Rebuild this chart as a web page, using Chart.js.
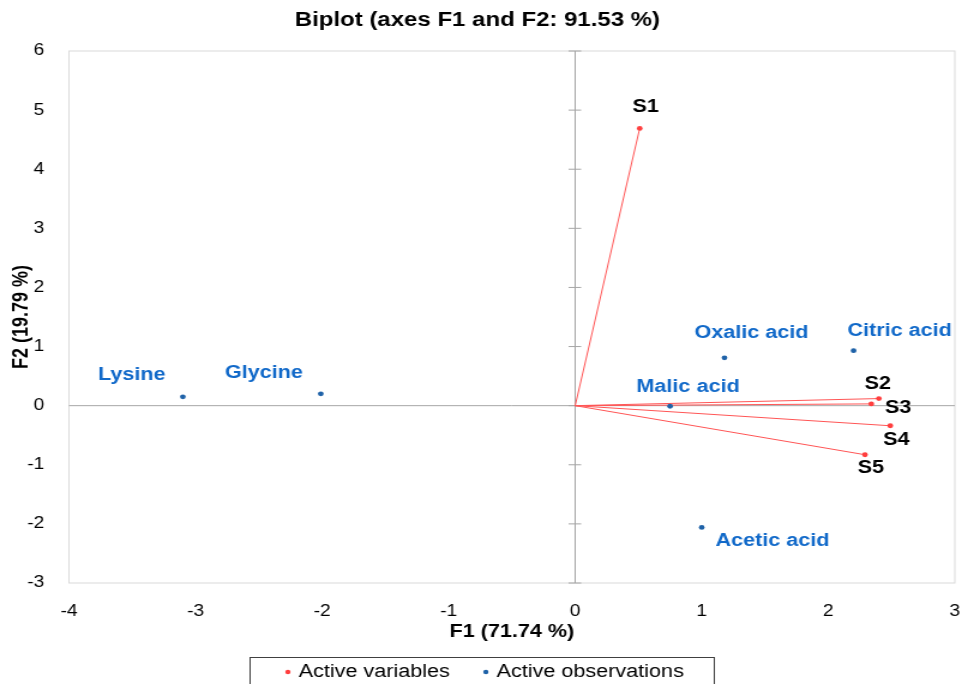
<!DOCTYPE html>
<html><head><meta charset="utf-8">
<script src="https://cdn.jsdelivr.net/npm/chart.js@4.4.1/dist/chart.umd.min.js"></script>
<style>html,body{margin:0;padding:0;background:#fff;overflow:hidden}</style></head>
<body><canvas id="c" width="802" height="684" style="display:block;width:962px;height:684px"></canvas>
<script>
const variableNames = ['S1', 'S2', 'S3', 'S4', 'S5'];
const variableF1 = [0.51, 2.40, 2.34, 2.49, 2.29];
const variableF2 = [4.69, 0.12, 0.03, -0.34, -0.83];
const observationNames = ['Oxalic acid', 'Citric acid', 'Malic acid', 'Acetic acid', 'Lysine', 'Glycine'];
const observationF1 = [1.18, 2.20, 0.75, 1.00, -3.10, -2.01];
const observationF2 = [0.81, 0.93, -0.01, -2.06, 0.15, 0.20];
const xTicks = [-4, -3, -2, -1, 0, 1, 2, 3];
const yTicks = [-3, -2, -1, 0, 1, 2, 3, 4, 5, 6];
const seriesNames = ['Active variables', 'Active observations'];

// label placement (style only, pixel offsets from each point)
const variableLabelOffsets = [[5, -21], [-1, -15], [22.5, 4], [5, 14], [5, 13]];
const observationLabelOffsets = [[22.5, -25], [38.3, -20], [15, -19], [59, 14], [-42.5, -22], [-47.5, -21]];

const FONT = '"Liberation Sans", Arial, sans-serif';
const RED = '#FF3F3F';
const BLUE_PT = '#1F62A8';
const BLUE_TXT = '#1169C9';

const decor = {
  id: 'decor',
  beforeDatasetsDraw(chart) {
    const {ctx, chartArea: a, scales: {x, y}} = chart;
    ctx.save();
    ctx.strokeStyle = '#D9D9D9'; ctx.lineWidth = 1;
    ctx.strokeRect(a.left, a.top, a.right - a.left, a.bottom - a.top);
    const x0 = x.getPixelForValue(0), y0 = y.getPixelForValue(0);
    ctx.strokeStyle = '#A6A6A6';
    ctx.beginPath();
    ctx.moveTo(x0, a.top); ctx.lineTo(x0, a.bottom);
    ctx.moveTo(a.left, y0); ctx.lineTo(a.right, y0);
    yTicks.forEach(v => { const p = y.getPixelForValue(v); ctx.moveTo(x0 - 5.5, p); ctx.lineTo(x0 + 5, p); });
    ctx.stroke();
    ctx.strokeStyle = '#FF5555'; ctx.lineWidth = 1;
    ctx.beginPath();
    variableF1.forEach((v, i) => {
      ctx.moveTo(x0, y0);
      ctx.lineTo(x.getPixelForValue(v), y.getPixelForValue(variableF2[i]));
    });
    ctx.stroke();
    ctx.restore();
  },
  afterDatasetsDraw(chart) {
    const {ctx, scales: {x, y}} = chart;
    ctx.save();
    ctx.font = '700 18px ' + FONT;
    ctx.textAlign = 'center'; ctx.textBaseline = 'middle';
    ctx.fillStyle = '#000';
    variableNames.forEach((n, i) => {
      const o = variableLabelOffsets[i];
      ctx.fillText(n, x.getPixelForValue(variableF1[i]) + o[0], y.getPixelForValue(variableF2[i]) + o[1]);
    });
    ctx.fillStyle = BLUE_TXT;
    observationNames.forEach((n, i) => {
      const o = observationLabelOffsets[i];
      ctx.fillText(n, x.getPixelForValue(observationF1[i]) + o[0], y.getPixelForValue(observationF2[i]) + o[1]);
    });
    ctx.restore();
  },
  afterDraw(chart) {
    const {ctx} = chart;
    ctx.save();
    ctx.strokeStyle = '#404040'; ctx.lineWidth = 1;
    ctx.strokeRect(208.5, 657.5, 387, 40);
    ctx.font = '18px ' + FONT;
    ctx.textBaseline = 'middle'; ctx.textAlign = 'left';
    let cx = 240;
    chart.data.datasets.forEach(ds => {
      ctx.fillStyle = ds.backgroundColor;
      ctx.beginPath(); ctx.arc(cx, 672, 2.2, 0, Math.PI * 2); ctx.fill();
      ctx.fillStyle = '#000';
      ctx.fillText(ds.label, cx + 9, 672);
      cx += 9 + ctx.measureText(ds.label).width + 30;
    });
    ctx.restore();
  }
};

new Chart(document.getElementById('c'), {
  type: 'scatter',
  data: {
    datasets: [
      {
        label: seriesNames[0],
        data: variableF1.map((v, i) => ({x: v, y: variableF2[i]})),
        backgroundColor: RED, borderColor: RED,
        pointRadius: 2.4, borderWidth: 0
      },
      {
        label: seriesNames[1],
        data: observationF1.map((v, i) => ({x: v, y: observationF2[i]})),
        backgroundColor: BLUE_PT, borderColor: BLUE_PT,
        pointRadius: 2.4, borderWidth: 0
      }
    ]
  },
  options: {
    responsive: false,
    animation: false,
    devicePixelRatio: 1,
    layout: {padding: {left: 0, right: 6, top: 0, bottom: 24}},
    plugins: {
      legend: {display: false},
      tooltip: {enabled: false},
      title: {
        display: true,
        text: 'Biplot (axes F1 and F2: 91.53 %)',
        color: '#000',
        font: {family: FONT, size: 20, weight: 'bold'},
        padding: {top: 8, bottom: 19}
      }
    },
    scales: {
      x: {
        type: 'linear', min: xTicks[0], max: xTicks[xTicks.length - 1],
        afterBuildTicks: s => { s.ticks = xTicks.map(v => ({value: v})); },
        afterFit: s => { s.height = 77; s.paddingRight = 0; s.paddingLeft = 0; },
        grid: {display: false},
        border: {display: false},
        ticks: {color: '#000', font: {family: FONT, size: 16}, padding: 11.4, maxRotation: 0},
        title: {display: true, text: 'F1 (71.74 %)', color: '#000',
          font: {family: FONT, size: 18, weight: 'bold'}, padding: {top: 0, bottom: 17.2}}
      },
      y: {
        type: 'linear', min: yTicks[0], max: yTicks[yTicks.length - 1],
        afterBuildTicks: s => { s.ticks = yTicks.map(v => ({value: v})); },
        afterFit: s => { s.width = 57.5; },
        grid: {display: false},
        border: {display: false},
        ticks: {color: '#000', font: {family: FONT, size: 16}, padding: 12.5},
        title: {display: true, text: 'F2 (19.79 %)', color: '#000',
          font: {family: FONT, size: 18, weight: 'bold'}, padding: {top: 7.5, bottom: 0}}
      }
    }
  },
  plugins: [decor]
});
</script>
</body></html>
